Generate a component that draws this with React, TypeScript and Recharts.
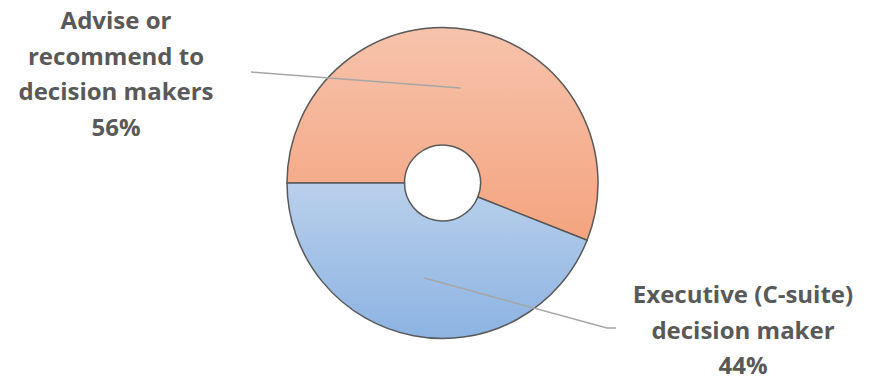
import { PieChart, Pie, Cell } from 'recharts'

const categories = ['Advise or recommend to decision makers', 'Executive (C-suite) decision maker']
const shares = [56, 44]
const labelLines = [
  ['Advise or', 'recommend to', 'decision makers'],
  ['Executive (C-suite)', 'decision maker'],
]

const data = categories.map((name, i) => ({ name, value: shares[i] }))

const GRADIENTS = [
  { id: 'gradOrange', top: '#f6c3ac', bottom: '#f4a47f' },
  { id: 'gradBlue', top: '#b9d0eb', bottom: '#8cb3e2' },
]

// label placement relative to pie centre
const LABEL_POS = [
  { leader: [[-191.5, -111]], text: [-326.5, -154] },
  { leader: [[164.5, 145], [173.5, 145]], text: [300.5, 120] },
]

const RADIAN = Math.PI / 180
const TEXT_COLOR = '#595959'

function renderLabel(props: any) {
  const { cx, cy, midAngle, innerRadius, outerRadius, index, value } = props
  const r = (innerRadius + outerRadius) / 2
  const sx = cx + r * Math.cos(-midAngle * RADIAN)
  const sy = cy + r * Math.sin(-midAngle * RADIAN)
  const pos = LABEL_POS[index]
  const pts = [[sx, sy], ...pos.leader.map(([dx, dy]) => [cx + dx, cy + dy])]
  const tx = cx + pos.text[0]
  const ty = cy + pos.text[1]
  const lines = [...labelLines[index], `${value}%`]
  return (
    <g key={`lbl-${index}`}>
      <polyline
        points={pts.map((p) => p.join(',')).join(' ')}
        fill="none"
        stroke="#a6a6a6"
        strokeWidth={1.5}
      />
      <text
        x={tx}
        y={ty}
        textAnchor="middle"
        fill={TEXT_COLOR}
        style={{ fontFamily: '"Open Sans", sans-serif', fontWeight: 700, fontSize: 24 }}
      >
        {lines.map((l, i) => (
          <tspan key={i} x={tx} dy={i === 0 ? 0 : 35.5}>{l}</tspan>
        ))}
      </text>
    </g>
  )
}

export default function App() {
  return (
    <div style={{ position: 'absolute', left: 0, top: 0, background: '#fff' }}>
      <style>{`body{margin:0}`}</style>
      <PieChart width={875} height={389} margin={{ top: 0, right: 0, bottom: 0, left: 0 }}>
        <defs>
          {GRADIENTS.map((g) => (
            <linearGradient key={g.id} id={g.id} x1="0" y1="0" x2="0" y2="1">
              <stop offset="0%" stopColor={g.top} />
              <stop offset="100%" stopColor={g.bottom} />
            </linearGradient>
          ))}
        </defs>
        <Pie
          data={data}
          dataKey="value"
          nameKey="name"
          cx={442.5}
          cy={183}
          innerRadius={38}
          outerRadius={155.5}
          startAngle={180}
          endAngle={-180}
          stroke="#595959"
          strokeWidth={1.5}
          label={renderLabel}
          labelLine={false}
          isAnimationActive={false}
        >
          {data.map((_, i) => (
            <Cell key={i} fill={`url(#${GRADIENTS[i].id})`} />
          ))}
        </Pie>
      </PieChart>
    </div>
  )
}
